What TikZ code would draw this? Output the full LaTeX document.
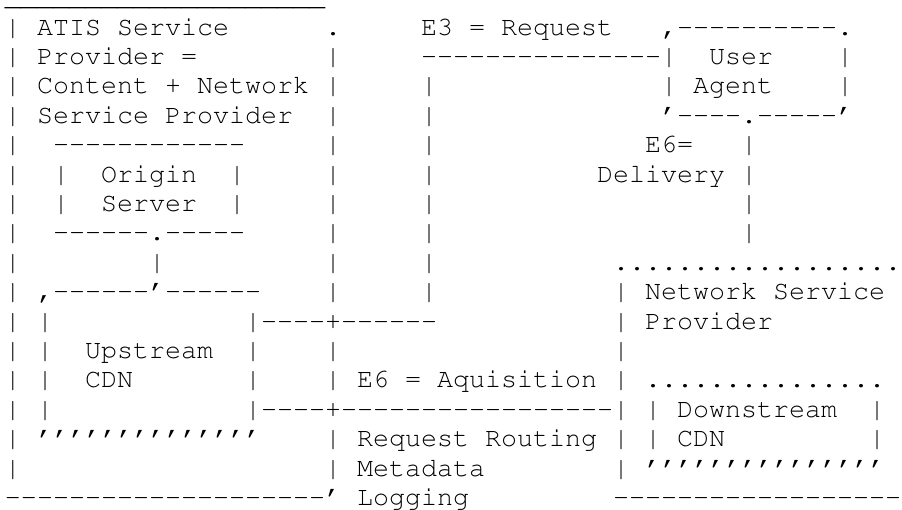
\documentclass[tikz,border=0pt]{standalone}
\usepackage[T1]{fontenc}
\usepackage{courier}
% Repeated characters, each in its own group so no ligatures form
\newcommand\rep[2]{\foreach\k in {1,...,#1}{#2}}
\newcommand\dsh[1]{\rep{#1}{-}}
\newcommand\apo[1]{\rep{#1}{'}}
\newcommand\dts[1]{\rep{#1}{.}}
\newcommand\und[1]{\rep{#1}{\_}}
% One text run on the character grid: row, column, text
\newcommand\cell[3]{\node[seg] (r#1c#2) at ({5pt+16pt*#2},{-35pt-29.4pt*(#1-2)}) {#3};}
\tikzset{
  seg/.style={anchor=base west, inner sep=0pt, outer sep=0pt,
              font=\fontsize{26.667}{29.4}\selectfont\ttfamily}
}
\begin{document}
\begin{tikzpicture}
\fill[white] (0pt,0pt) rectangle (902pt,-509pt);
\useasboundingbox (0pt,0pt) rectangle (902pt,-509pt);
% row 1
\cell{1}{0}{\und{20}}
% row 2
\cell{2}{0}{|}\cell{2}{2}{ATIS Service}\cell{2}{20}{.}
\cell{2}{26}{E3 = Request}\cell{2}{41}{,\dsh{10}.}
% row 3
\cell{3}{0}{|}\cell{3}{2}{Provider =}\cell{3}{20}{|}
\cell{3}{26}{\dsh{15}}\cell{3}{41}{|}\cell{3}{44}{User}\cell{3}{52}{|}
% row 4
\cell{4}{0}{|}\cell{4}{2}{Content + Network}\cell{4}{20}{|}\cell{4}{26}{|}
\cell{4}{41}{|}\cell{4}{43}{Agent}\cell{4}{52}{|}
% row 5
\cell{5}{0}{|}\cell{5}{2}{Service Provider}\cell{5}{20}{|}\cell{5}{26}{|}
\cell{5}{41}{'\dsh{4}.\dsh{5}'}
% row 6
\cell{6}{0}{|}\cell{6}{3}{\dsh{12}}\cell{6}{20}{|}\cell{6}{26}{|}
\cell{6}{40}{E6=}\cell{6}{46}{|}
% row 7
\cell{7}{0}{|}\cell{7}{3}{|}\cell{7}{6}{Origin}\cell{7}{14}{|}\cell{7}{20}{|}\cell{7}{26}{|}
\cell{7}{37}{Delivery}\cell{7}{46}{|}
% row 8
\cell{8}{0}{|}\cell{8}{3}{|}\cell{8}{6}{Server}\cell{8}{14}{|}\cell{8}{20}{|}\cell{8}{26}{|}
\cell{8}{46}{|}
% row 9
\cell{9}{0}{|}\cell{9}{3}{\dsh{6}.\dsh{5}}\cell{9}{20}{|}\cell{9}{26}{|}\cell{9}{46}{|}
% row 10
\cell{10}{0}{|}\cell{10}{9}{|}\cell{10}{20}{|}\cell{10}{26}{|}\cell{10}{38}{\dts{18}}
% row 11
\cell{11}{0}{|}\cell{11}{2}{,\dsh{6}'\dsh{6}}\cell{11}{20}{|}\cell{11}{26}{|}
\cell{11}{38}{|}\cell{11}{40}{Network Service}
% row 12
\cell{12}{0}{|}\cell{12}{2}{|}\cell{12}{15}{|\dsh{4}+\dsh{6}}
\cell{12}{38}{|}\cell{12}{40}{Provider}
% row 13
\cell{13}{0}{|}\cell{13}{2}{|}\cell{13}{5}{Upstream}\cell{13}{15}{|}\cell{13}{20}{|}
\cell{13}{38}{|}
% row 14
\cell{14}{0}{|}\cell{14}{2}{|}\cell{14}{5}{CDN}\cell{14}{15}{|}\cell{14}{20}{|}
\cell{14}{22}{E6 = Aquisition}\cell{14}{38}{|}\cell{14}{40}{\dts{15}}
% row 15
\cell{15}{0}{|}\cell{15}{2}{|}\cell{15}{15}{|\dsh{4}+\dsh{17}|}
\cell{15}{40}{|}\cell{15}{42}{Downstream}\cell{15}{54}{|}
% row 16
\cell{16}{0}{|}\cell{16}{2}{\apo{14}}\cell{16}{20}{|}\cell{16}{22}{Request Routing}
\cell{16}{38}{|}\cell{16}{40}{|}\cell{16}{42}{CDN}\cell{16}{54}{|}
% row 17
\cell{17}{0}{|}\cell{17}{20}{|}\cell{17}{22}{Metadata}\cell{17}{38}{|}\cell{17}{40}{\apo{15}}
% row 18
\cell{18}{0}{\dsh{20}'}\cell{18}{22}{Logging}\cell{18}{38}{\dsh{18}}
\end{tikzpicture}
\end{document}
